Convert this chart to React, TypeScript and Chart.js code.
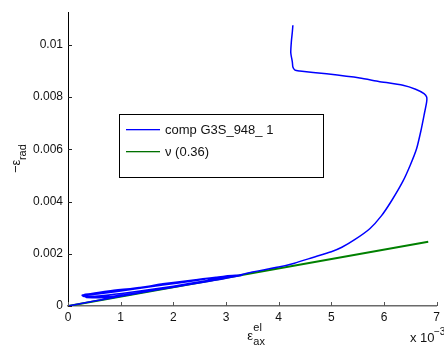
import React, { useEffect, useRef } from "react";
import { Chart, registerables } from "chart.js";

Chart.register(...registerables);

// axis units: both axes in 10^-3 strain units
const xTicks = [0, 1, 2, 3, 4, 5, 6, 7];
const xTickLabels = ["0", "1", "2", "3", "4", "5", "6", "7"];
const yTicks = [0, 2, 4, 6, 8, 10];
const yTickLabels = ["0", "0.002", "0.004", "0.006", "0.008", "0.01"];

const blueLabel = "comp G3S_948_ 1";
const blueX = [
  0, 0.5, 1, 1.5, 2, 2.5, 3.0,
  2.7, 2.35, 1.8, 1.4, 0.77, 0.4, 0.27,
  0.3, 0.77, 1.4, 2.0, 2.6, 3.2,
  2.9, 2.4, 1.8, 1.2, 0.7, 0.3,
  0.35, 0.77, 1.4, 2.0, 2.6, 3.3,
  3.0, 2.4, 1.8, 1.2, 0.6, 0.3,
  0.35, 0.77, 1.4, 2.0, 2.6, 3.0, 3.5,
  4.0, 4.3, 4.65, 5.0, 5.2, 5.45, 5.73, 5.95, 6.15, 6.36, 6.5, 6.62, 6.7, 6.76, 6.81, 6.81, 6.76,
  6.6, 6.36, 5.9, 5.54, 4.91, 4.4, 4.31, 4.27, 4.26, 4.23, 4.24, 4.26, 4.27,
];
const blueY = [
  0, 0.19, 0.37, 0.55, 0.73, 0.91, 1.08,
  1.05, 0.99, 0.85, 0.72, 0.57, 0.46, 0.41,
  0.36, 0.42, 0.58, 0.76, 0.96, 1.15,
  1.12, 1.0, 0.83, 0.66, 0.52, 0.43,
  0.34, 0.36, 0.53, 0.72, 0.93, 1.18,
  1.15, 0.97, 0.8, 0.63, 0.47, 0.4,
  0.33, 0.33, 0.52, 0.72, 0.92, 1.06, 1.3,
  1.49, 1.64, 1.86, 2.08, 2.25, 2.55, 2.96, 3.45, 4.05, 4.78, 5.4, 6.03, 6.7, 7.3, 7.82, 8.0, 8.13,
  8.3, 8.45, 8.6, 8.73, 8.89, 9.0, 9.03, 9.15, 9.34, 9.7, 10.1, 10.5, 10.75,
];

const greenLabel = "\u03bd (0.36)";
const greenX = [0, 6.84];
const greenY = [0, 2.46];

const FONT = "'Liberation Sans', Arial, Helvetica, sans-serif";
const TEXT = "#111";

const decorPlugin = {
  id: "decor",
  afterDraw(chart: any) {
    const ctx = chart.ctx as CanvasRenderingContext2D;
    const area = chart.chartArea;
    const xs = chart.scales.x;
    const ys = chart.scales.y;
    ctx.save();
    // inward ticks
    ctx.lineWidth = 1;
    ctx.strokeStyle = "#555";
    xTicks.forEach((t) => {
      const px = Math.round(xs.getPixelForValue(t)) + 0.5;
      ctx.beginPath();
      ctx.moveTo(px, area.bottom);
      ctx.lineTo(px, area.bottom - 4);
      ctx.stroke();
    });
    ctx.strokeStyle = "#222";
    yTicks.forEach((t) => {
      const py = Math.round(ys.getPixelForValue(t)) + 0.5;
      ctx.beginPath();
      ctx.moveTo(area.left, py);
      ctx.lineTo(area.left + 4, py);
      ctx.stroke();
    });

    ctx.fillStyle = TEXT;
    // x axis title: epsilon^el_ax
    const cx = (area.left + area.right) / 2;
    ctx.textBaseline = "alphabetic";
    ctx.textAlign = "left";
    ctx.font = `13px ${FONT}`;
    ctx.fillText("\u03b5", cx - 5, 340);
    ctx.font = `11px ${FONT}`;
    ctx.fillText("el", cx + 1, 331);
    ctx.fillText("ax", cx + 1, 345);

    // x 10^-3
    ctx.font = `13px ${FONT}`;
    ctx.fillText("x 10", 410, 342);
    ctx.font = `10px ${FONT}`;
    ctx.fillText("\u22123", 434, 335);

    // y axis title: -epsilon_rad rotated
    ctx.save();
    ctx.translate(20, (area.top + area.bottom) / 2);
    ctx.rotate(-Math.PI / 2);
    ctx.font = `13px ${FONT}`;
    ctx.textAlign = "left";
    ctx.fillText("\u2212\u03b5", -14, 0);
    ctx.font = `11px ${FONT}`;
    ctx.fillText("rad", -1, 6);
    ctx.restore();

    // legend box
    const lx = 119.5, ly = 114.5, lw = 204, lh = 63;
    ctx.fillStyle = "#ffffff";
    ctx.fillRect(lx, ly, lw, lh);
    ctx.strokeStyle = "#000";
    ctx.lineWidth = 1;
    ctx.strokeRect(lx, ly, lw, lh);
    const rows = [
      { label: chart.data.datasets[0].label, color: "#0000ff", y: 129 },
      { label: chart.data.datasets[1].label, color: "#007000", y: 151 },
    ];
    ctx.font = `13px ${FONT}`;
    ctx.textBaseline = "middle";
    rows.forEach((r) => {
      ctx.fillStyle = r.color;
      ctx.fillRect(126, r.y, 34, 1.3);
      ctx.fillStyle = TEXT;
      ctx.fillText(r.label, 165, r.y + 1);
    });
    ctx.restore();
  },
};

export default function App() {
  const ref = useRef<HTMLCanvasElement | null>(null);
  useEffect(() => {
    document.body.style.margin = "0";
    const canvas = ref.current!;
    const chart = new Chart(canvas, {
      type: "scatter",
      data: {
        datasets: [
          {
            label: blueLabel,
            data: blueX.map((x, i) => ({ x, y: blueY[i] })),
            showLine: true,
            borderColor: "#0000ff",
            borderWidth: 1.5,
            pointRadius: 0,
            tension: 0.2,
          },
          {
            label: greenLabel,
            data: greenX.map((x, i) => ({ x, y: greenY[i] })),
            showLine: true,
            borderColor: "#008000",
            borderWidth: 2,
            pointRadius: 0,
          },
        ],
      },
      options: {
        responsive: false,
        animation: false,
        layout: { padding: { left: 0, right: 7, top: 10, bottom: 0 } },
        plugins: { legend: { display: false }, tooltip: { enabled: false } },
        scales: {
          x: {
            type: "linear",
            min: 0,
            max: 7,
            afterBuildTicks: (s: any) => {
              s.ticks = xTicks.map((v) => ({ value: v }));
            },
            afterFit: (s: any) => {
              s.height = 41;
            },
            grid: { display: true, drawOnChartArea: false, drawTicks: false },
            border: { display: true, color: "#6a6a6a", width: 1.5 },
            ticks: {
              padding: 4,
              color: TEXT,
              font: { family: FONT, size: 12 },
              maxRotation: 0,
              callback: (v: any) => {
                const i = xTicks.indexOf(Number(v));
                return i >= 0 ? xTickLabels[i] : "";
              },
            },
          },
          y: {
            type: "linear",
            min: 0,
            max: 11.25,
            afterBuildTicks: (s: any) => {
              s.ticks = yTicks.map((v) => ({ value: v }));
            },
            afterFit: (s: any) => {
              s.width = 68;
            },
            grid: { display: true, drawOnChartArea: false, drawTicks: false },
            border: { display: true, color: "#000", width: 1 },
            ticks: {
              padding: 5,
              color: TEXT,
              font: { family: FONT, size: 12 },
              callback: (v: any) => {
                const i = yTicks.indexOf(Number(v));
                return i >= 0 ? yTickLabels[i] : "";
              },
            },
          },
        },
      },
      plugins: [decorPlugin],
    });
    return () => chart.destroy();
  }, []);
  return (
    <div style={{ position: "absolute", left: 0, top: 0, width: 444, height: 347, background: "#fff" }}>
      <canvas ref={ref} width={444} height={347} style={{ display: "block" }} />
    </div>
  );
}
